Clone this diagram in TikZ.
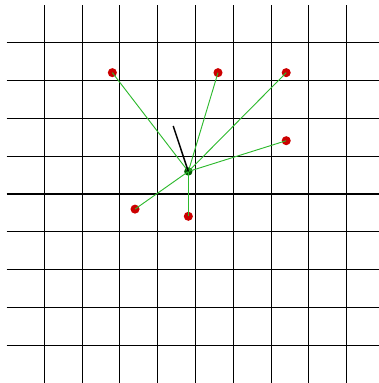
\documentclass[tikz,border=0pt]{standalone}
\usepackage{xcolor}
\usepackage{tikz}
\usetikzlibrary{positioning}

\definecolor{dotred}{RGB}{204,0,0}
\definecolor{linkgreen}{RGB}{45,185,45}
\definecolor{ctrgreen}{RGB}{0,90,0}

\begin{document}
\begin{tikzpicture}[
    gridline/.style={line width=0.8pt, black},
    dot/.style={circle, fill=#1, inner sep=0pt, minimum size=0.24cm},
    dot/.default={dotred},
    link/.style={line width=0.7pt, linkgreen},
    pointer/.style={line width=1.1pt, black}
]
\useasboundingbox (-0.172,0) rectangle (9.854,10.132);

% --- Grid ---
\foreach \x in {1,...,9}
    \draw[gridline] (\x,0) -- (\x,10);
\foreach \y in {1,...,9}
    \draw[gridline] (0,\y) -- (9.854,\y);

% --- Points ---
\node[dot] (p1) at (2.80,8.21) {};
\node[dot] (p2) at (5.595,8.21) {};
\node[dot] (p3) at (7.40,8.21) {};
\node[dot] (p4) at (7.40,6.41) {};
\node[dot] (p5) at (3.40,4.60) {};
\node[dot] (p6) at (4.81,4.41) {};

% --- Centre ---
\node[dot=ctrgreen, minimum size=0.22cm] (ctr) at (4.81,5.595) {};
\coordinate (tip) at (4.41,6.80);

% --- Links ---
\draw[link] (ctr.center) -- (p1.center);
\draw[link] (ctr.center) -- (p2.center);
\draw[link] (ctr.center) -- (p3.center);
\draw[link] (ctr.center) -- (p4.center);
\draw[link] (ctr.center) -- (p5.center);
\draw[link] (ctr.center) -- (p6.center);

% --- Heading ---
\draw[pointer] (ctr.center) -- (tip);

\end{tikzpicture}
\end{document}
